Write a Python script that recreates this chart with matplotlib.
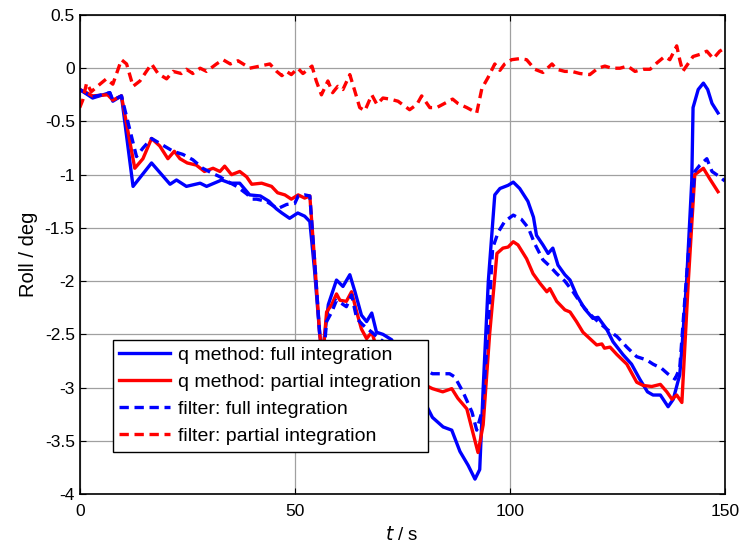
import numpy as np
import matplotlib
matplotlib.use('Agg')
import matplotlib.pyplot as plt

plt.rcParams['font.family'] = ['Liberation Sans', 'DejaVu Sans']

# q method, full integration (blue solid)
t_q_full = [0, 3, 7, 7.7, 9.7, 12.4, 16.7, 21, 22.5, 24.8, 28, 29.5, 33, 35, 37.2, 39.5,
            42, 44, 45.7, 47, 48.8, 50.7, 52.3, 53.5, 54.6, 55.8, 56.4, 57.8, 59.7, 61.2,
            62.8, 64, 65.5, 66.7, 67.9, 69, 70.5, 72.5, 75, 78, 80, 82, 84.5, 86.5, 88.4,
            90.3, 91.9, 93, 93.8, 95, 96.5, 97.7, 99.6, 100.8, 102.3, 104.2, 105.5, 106.2,
            107.7, 108.9, 110, 111.2, 112.8, 114, 115.5, 117.4, 119.3, 120.5, 122.5, 124,
            126.3, 128.3, 130.2, 132, 133.3, 135, 136.8, 138, 139.5, 140, 141.1, 142.3,
            142.6, 143.8, 145, 146, 147, 148.4]
roll_q_full = [-0.2, -0.28, -0.23, -0.31, -0.26, -1.11, -0.89, -1.09, -1.05, -1.11, -1.08,
               -1.11, -1.05, -1.08, -1.08, -1.19, -1.2, -1.25, -1.32, -1.36, -1.41, -1.36,
               -1.39, -1.44, -1.9, -2.5, -2.7, -2.22, -1.99, -2.05, -1.94, -2.1, -2.32, -2.38,
               -2.3, -2.48, -2.5, -2.55, -2.72, -2.95, -3.12, -3.28, -3.37, -3.4, -3.6, -3.73,
               -3.86, -3.77, -3.01, -2.0, -1.19, -1.13, -1.1, -1.07, -1.13, -1.25, -1.4,
               -1.57, -1.66, -1.74, -1.69, -1.85, -1.94, -1.99, -2.13, -2.26, -2.35, -2.34,
               -2.45, -2.57, -2.69, -2.78, -2.92, -3.04, -3.07, -3.07, -3.18, -3.11, -2.88,
               -2.64, -2.0, -1.06, -0.37, -0.2, -0.14, -0.2, -0.33, -0.42]

# q method, partial integration (red solid)
t_q_part = [0, 1.6, 3, 6.5, 7.7, 9.7, 12.8, 14.7, 16.7, 18.6, 20.5, 22, 23.3, 25, 27.1, 29,
            31, 32.6, 33.7, 35.3, 37.2, 38.8, 40, 42.3, 44.6, 46, 47.7, 49.2, 50.8, 52.3,
            53.5, 54.6, 55.8, 56.5, 57.4, 58.6, 59.7, 60.5, 62, 63.2, 64.4, 65.5, 66.7,
            67.9, 68.6, 72, 76, 79, 82, 84.4, 86.5, 87.9, 90, 91.2, 92.6, 93.8, 95.3, 97,
            98.4, 99.6, 100.8, 101.9, 103.9, 105.4, 107, 108.6, 109.3, 110.9, 112.8, 114,
            115.5, 117, 118.6, 120.2, 121.4, 122, 123.3, 124.9, 127.2, 129.5, 131, 133, 135,
            136.5, 137.7, 138.8, 140, 141.5, 143, 145, 146.5, 148.4]
roll_q_part = [-0.2, -0.23, -0.26, -0.25, -0.3, -0.26, -0.94, -0.85, -0.66, -0.73, -0.85,
               -0.78, -0.85, -0.89, -0.91, -0.97, -0.94, -0.97, -0.92, -1.0, -0.97, -1.02,
               -1.09, -1.08, -1.11, -1.17, -1.19, -1.23, -1.19, -1.22, -1.2, -1.8, -2.5,
               -2.72, -2.29, -2.22, -2.12, -2.18, -2.19, -2.1, -2.29, -2.45, -2.54, -2.48,
               -2.57, -2.7, -2.85, -2.95, -3.01, -3.04, -3.01, -3.1, -3.2, -3.39, -3.61,
               -3.35, -2.5, -1.74, -1.69, -1.68, -1.63, -1.66, -1.79, -1.93, -2.02, -2.1,
               -2.07, -2.19, -2.27, -2.29, -2.38, -2.48, -2.54, -2.6, -2.59, -2.63, -2.62,
               -2.69, -2.78, -2.95, -2.98, -2.99, -2.97, -3.04, -3.11, -3.07, -3.14, -2.0,
               -1.0, -0.94, -1.04, -1.16]

# filter, full integration (blue dashed)
t_f_full = [0, 3, 7, 7.7, 9.7, 13.2, 14.7, 16.7, 21.7, 24, 26.3, 28.6, 31, 32.6, 34.2, 36.5,
            38.8, 40.2, 41.1, 43.4, 46, 48.1, 50, 50.8, 52.3, 53.5, 54.6, 55.8, 56.6, 57.4,
            58.6, 59.7, 60.9, 62, 63.2, 64.4, 65.8, 70, 75, 79, 82, 86, 87.2, 89.1, 91.2,
            92.3, 93.7, 95, 96, 97.3, 98.8, 100.8, 102.7, 104.3, 105.8, 107.7, 109.3, 110.9,
            112.8, 114.7, 116.7, 118.6, 120.5, 122.5, 124.9, 127.2, 129.5, 131.8, 133.3,
            135.3, 136.7, 138.4, 139.5, 141, 143, 144.2, 145.8, 147, 148.8, 150]
roll_f_full = [-0.2, -0.27, -0.23, -0.3, -0.26, -0.83, -0.75, -0.66, -0.78, -0.81, -0.86,
               -0.94, -0.99, -1.02, -1.06, -1.11, -1.18, -1.23, -1.23, -1.25, -1.32, -1.28,
               -1.27, -1.2, -1.19, -1.2, -1.8, -2.5, -2.75, -2.38, -2.29, -2.18, -2.21, -2.24,
               -2.13, -2.35, -2.41, -2.55, -2.7, -2.8, -2.87, -2.87, -2.9, -3.04, -3.23, -3.4,
               -3.2, -2.4, -1.69, -1.54, -1.44, -1.38, -1.42, -1.5, -1.65, -1.8, -1.86, -1.93,
               -2.0, -2.1, -2.22, -2.31, -2.38, -2.45, -2.52, -2.62, -2.71, -2.74, -2.78,
               -2.82, -2.87, -2.92, -2.82, -2.0, -0.97, -0.91, -0.85, -0.97, -1.02, -1.06]

# filter, partial integration (red dashed)
t_f_part = [0, 0.7, 1.6, 2.7, 4.7, 6.2, 7.7, 9.7, 10.9, 12.4, 14, 15.5, 16.7, 18.2, 20.2,
            21.7, 23.6, 24.8, 26.3, 28, 29.5, 31.8, 33.3, 35, 36.8, 38.8, 39.5, 41.9, 44.2,
            45.8, 47, 48.1, 49.2, 50.7, 51.9, 54, 55, 56.2, 57.7, 58.8, 60, 61.2, 62.8, 64,
            65.1, 66.3, 67.9, 69.1, 70.5, 72.1, 74, 76.7, 78.4, 79.5, 81.4, 83, 84.4, 86.7,
            87.9, 90, 92.3, 93.5, 94.9, 96.5, 97.7, 98.8, 100.4, 102.3, 103.9, 105.8, 107.7,
            109.8, 110.9, 112.8, 114.4, 116.3, 118.6, 120.5, 122.1, 123.7, 125.6, 127.4,
            129.1, 131, 132.6, 134.2, 136, 137.2, 138.8, 139.5, 140.2, 141.4, 142.6, 144.2,
            145.8, 147.3, 148.8, 150]
roll_f_part = [-0.37, -0.3, -0.14, -0.22, -0.15, -0.1, -0.15, 0.08, 0.04, -0.17, -0.12,
               -0.03, 0.04, -0.05, -0.1, -0.03, -0.05, -0.01, -0.05, 0, -0.03, 0.04, 0.08,
               0.04, 0.07, 0.02, 0, 0.02, 0.04, -0.03, -0.07, -0.03, -0.06, 0, -0.05, 0.02,
               -0.12, -0.25, -0.12, -0.23, -0.17, -0.2, -0.06, -0.22, -0.37, -0.4, -0.25,
               -0.34, -0.28, -0.29, -0.31, -0.39, -0.34, -0.26, -0.37, -0.37, -0.34, -0.29,
               -0.33, -0.37, -0.42, -0.19, -0.09, 0.04, -0.02, 0.04, 0.08, 0.09, 0.08, -0.01,
               -0.04, 0.04, -0.01, -0.03, -0.03, -0.05, -0.06, 0, 0.02, 0, 0, 0.02, -0.03,
               -0.01, -0.01, 0.05, 0.11, 0.08, 0.21, 0.08, -0.03, 0.04, 0.11, 0.13, 0.16, 0.09,
               0.16, 0.19]

fig = plt.figure(figsize=(7.45, 5.51), dpi=100)
ax = fig.add_axes([0.107, 0.1034, 0.866, 0.8694])

# MATLAB-ish dashes
dash = (0, (2.8, 1.7))
ax.plot(t_q_full, roll_q_full, color='blue', lw=2.4, label='q method: full integration')
ax.plot(t_q_part, roll_q_part, color='red', lw=2.4, label='q method: partial integration')
ax.plot(t_f_full, roll_f_full, color='blue', lw=2.4, ls=dash, label='filter: full integration')
ax.plot(t_f_part, roll_f_part, color='red', lw=2.4, ls=dash, label='filter: partial integration')

ax.set_xlim(0, 150)
ax.set_ylim(-4, 0.5)
ax.set_xticks([0, 50, 100, 150])
ax.set_yticks(np.arange(-4, 0.51, 0.5))
ax.set_yticklabels(['-4', '-3.5', '-3', '-2.5', '-2', '-1.5', '-1', '-0.5', '0', '0.5'])
ax.tick_params(direction='in', top=True, right=True, labelsize=12.5, length=4, width=0.8)
ax.tick_params(axis='x', pad=7)
ax.grid(True, color='#a0a0a0', lw=0.9)
ax.set_axisbelow(True)
for s in ax.spines.values():
    s.set_linewidth(1.2)

ax.set_xlabel(r'$\mathit{t}$ / s', fontsize=13.5, labelpad=5)
ax.set_ylabel('Roll / deg', fontsize=14.5, labelpad=5)

leg = ax.legend(loc='lower left', bbox_to_anchor=(0.051, 0.088), borderaxespad=0,
                fontsize=14, handlelength=2.6, labelspacing=0.48, fancybox=False,
                framealpha=1, edgecolor='black', borderpad=0.35, handletextpad=0.4)
leg.get_frame().set_linewidth(1.0)

plt.savefig('out.png', dpi=100)
